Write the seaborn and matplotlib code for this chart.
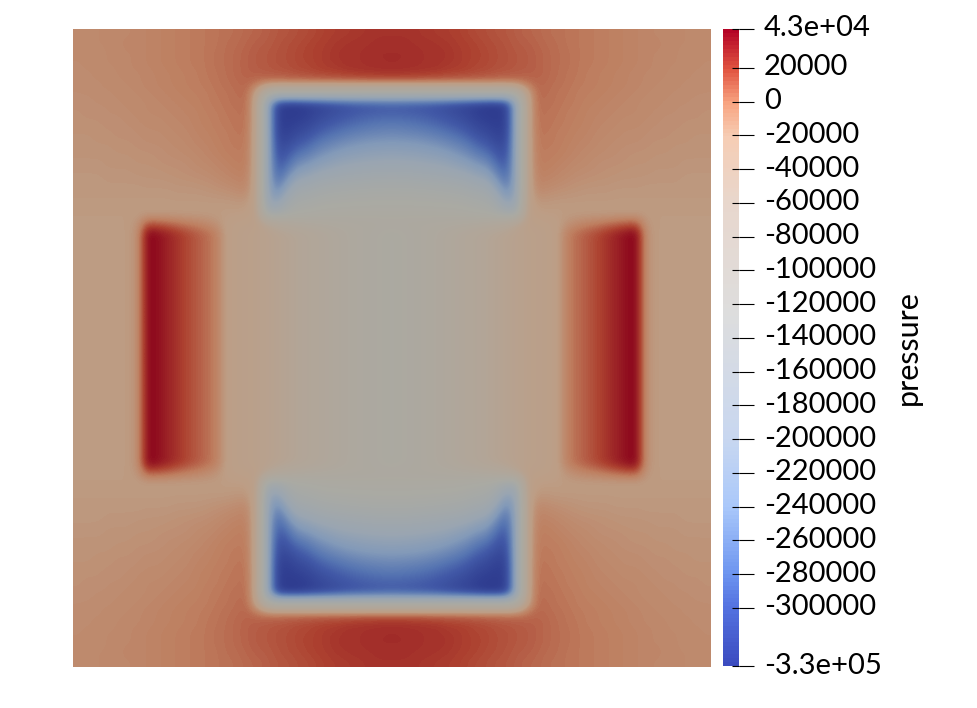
import matplotlib
matplotlib.use('Agg')
import matplotlib.pyplot as plt
from matplotlib.cm import ScalarMappable
from matplotlib.colors import LinearSegmentedColormap, Normalize
from matplotlib.transforms import ScaledTranslation
import numpy as np
import pandas as pd
import seaborn as sns

# pressure, in thousands, top left quarter of the square
quarter = [
    [-8,-8,-7,-7,-6,-6,-5,-4,-3,-2,-1,0,1,2,3,4,5,7, 8,10,12,13,15,16,18,20,21,22,23,24,25,25],
    [-8,-8,-7,-7,-6,-5,-5,-4,-3,-2,-1,0,1,2,3,5,6,8, 10,11,13,15,16,18,20,21,23,24,25,25,26,26],
    [-8,-8,-8,-7,-6,-6,-5,-4,-3,-2,-1,0,1,2,4,5,7,9, 11,12,14,15,17,19,20,22,24,25,25,26,27,27],
    [-9,-8,-8,-7,-7,-6,-5,-4,-3,-2,-1,0,1,2,4,5,7,9, 11,12,14,15,17,18,20,22,23,25,25,26,26,27],
    [-9,-9,-8,-8,-7,-6,-6,-5,-4,-3,-2,-1,0,2,3,5,7,9, 10,11,12,13,15,16,18,19,20,22,23,24,25,25],
    [-10,-9,-9,-8,-8,-7,-6,-5,-4,-3,-2,-1,0,1,3,4,6,7, 2,-2,-2,-2,-2,-2,-2,-2,-2,-2,-2,-2,-2,-2],
    [-10,-10,-9,-9,-8,-8,-7,-6,-5,-4,-3,-2,-1,0,2,3,5,6, -30,-120,-150,-150,-150,-150,-150,-150,-150,-150,-150,-150,-150,-150],
    [-11,-11,-10,-10,-9,-8,-8,-7,-6,-5,-4,-3,-2,0,1,3,4,5, -35,-215,-320,-330,-330,-325,-320,-315,-310,-305,-302,-300,-298,-296],
    [-12,-11,-11,-10,-10,-9,-8,-7,-7,-6,-5,-4,-3,-1,0,2,3,4, -35,-215,-325,-334,-332,-328,-320,-314,-308,-303,-298,-295,-293,-292],
    [-12,-12,-12,-11,-11,-10,-9,-8,-8,-7,-6,-5,-3,-2,0,1,3,3, -35,-215,-325,-330,-325,-320,-310,-302,-295,-289,-284,-280,-277,-275],
    [-13,-13,-12,-12,-11,-11,-10,-9,-9,-8,-7,-6,-4,-3,-1,0,2,2, -35,-215,-322,-325,-315,-308,-295,-285,-278,-271,-266,-262,-260,-258],
    [-14,-14,-13,-13,-12,-12,-11,-10,-10,-9,-8,-7,-5,-4,-2,0,1,1, -35,-215,-315,-315,-300,-290,-275,-265,-257,-250,-245,-241,-239,-238],
    [-14,-14,-14,-14,-13,-13,-12,-12,-11,-10,-9,-8,-7,-5,-3,-1,0,0, -35,-215,-310,-300,-280,-270,-255,-245,-235,-228,-224,-220,-218,-216],
    [-15,-15,-15,-14,-14,-14,-13,-13,-12,-11,-11,-10,-8,-7,-5,-3,-1,-1, -35,-215,-300,-285,-255,-245,-230,-220,-210,-205,-201,-198,-196,-195],
    [-16,-16,-16,-15,-15,-15,-14,-14,-14,-13,-12,-11,-10,-9,-7,-5,-3,-3, -35,-215,-290,-262,-225,-215,-200,-192,-186,-181,-178,-175,-173,-172],
    [-17,-17,-17,-16,-16,-16,-16,-15,-15,-15,-14,-14,-13,-12,-10,-8,-6,-5, -35,-210,-275,-232,-190,-182,-170,-163,-160,-157,-155,-153,-151,-150],
    [-17,-17,-17,-17,-17,-17,-17,-17,-17,-17,-16,-16,-16,-15,-14,-13,-11,-10, -35,-205,-250,-195,-160,-155,-148,-144,-141,-139,-137,-136,-135,-135],
    [-18,-18,-18,-18,-18,-18,-18,-18,-18,-18,-18,-18,-18,-18,-18,-18,-17,-17, -35,-190,-210,-160,-140,-138,-132,-128,-127,-126,-125,-125,-124,-124],
    [-19,-19,-19,-19,-19,-19,-19,-19,-19,-19,-19,-19,-19,-19,-19,-20,-20,-22, -35,-150,-150,-135,-125,-122,-118,-116,-115,-114,-114,-113,-113,-113],
    [-19,-19,-19,-19,-19,-19,-15,12,10,7,3,-1,-4,-8,-14,-24,-28,-30, -30,-50,-70,-80,-87,-92,-95,-97,-100,-101,-102,-103,-104,-105],
    [-20,-20,-20,-20,-20,-19,-12,43,38,31,24,17,11,5,-3,-24,-30,-32, -35,-40,-46,-52,-58,-65,-72,-80,-87,-94,-100,-105,-109,-112],
]
# below the top of the side block the picture hardly changes from row to row
middle_row = [-20,-20,-20,-20,-20,-19,-12,43,38,31,24,17,11,5,-3,-24,-30,-32, -35,-40,-46,-52,-58,-65,-72,-80,-87,-94,-100,-105,-109,-112]
quarter = quarter + [middle_row] * 11

# colour bar
tick_values = [43000, 20000, 0, -20000, -40000, -60000, -80000, -100000, -120000, -140000, -160000,
               -180000, -200000, -220000, -240000, -260000, -280000, -300000, -334500]
tick_labels = ['4.3e+04', '20000', '0', '-20000', '-40000', '-60000', '-80000', '-100000', '-120000',
               '-140000', '-160000', '-180000', '-200000', '-220000', '-240000', '-260000', '-280000',
               '-300000', '-3.3e+05']
stop_values = [-334500, -300000, -280000, -240000, -200000, -125000, -60000, -20000, 0, 20000, 43000]
stop_colors = ['#3b4cc0', '#5573e1', '#6e96f0', '#aac8fa', '#c8d7f0', '#dddddd',
               '#e8d7cd', '#f6cdb4', '#f8a582', '#e15541', '#b40426']
shade = (0.77, 0.77, 0.74)  # the square is lit, so it looks darker than the bar

vmin, vmax = stop_values[0], stop_values[-1]
norm = Normalize(vmin, vmax)
positions = [norm(v) for v in stop_values]
bar_cmap = LinearSegmentedColormap.from_list('pressure_bar', list(zip(positions, stop_colors)), N=160)
lit_colors = [tuple(c * s for c, s in zip(matplotlib.colors.to_rgb(h), shade)) for h in stop_colors]
lit_cmap = LinearSegmentedColormap.from_list('pressure_lit', list(zip(positions, lit_colors)), N=256)

top = np.hstack([np.array(quarter), np.fliplr(np.array(quarter))])
pressure = pd.DataFrame(np.vstack([top, np.flipud(top)]) * 1000.0)

plt.rcParams['font.family'] = ['Lato', 'DejaVu Sans']
fig = plt.figure(figsize=(9.78, 7.08), dpi=100)
ax = fig.add_axes([73 / 978, 1 - 667 / 708, 638 / 978, 638 / 708])
sns.heatmap(pressure, cmap=lit_cmap, vmin=vmin, vmax=vmax, cbar=False, xticklabels=False,
            yticklabels=False, ax=ax)
# same cells again, smoothed like the original render
ax.imshow(pressure.values, cmap=lit_cmap, vmin=vmin, vmax=vmax, interpolation='bicubic',
          extent=(0, 64, 64, 0), aspect='auto', zorder=3)
ax.set_xlim(0, 64)
ax.set_ylim(64, 0)
ax.axis('off')

cax = fig.add_axes([723 / 978, 1 - 666 / 708, 16 / 978, 637 / 708])
bar = fig.colorbar(ScalarMappable(norm=norm, cmap=bar_cmap), cax=cax, ticks=tick_values)
bar.outline.set_visible(False)
bar.set_ticklabels(tick_labels)
cax.tick_params(axis='y', direction='out', length=10.8, width=0.8, pad=7, labelsize=21, colors='black')
cax.hlines(tick_values, 0.56, 1, color='black', lw=0.8, clip_on=False)
bar.set_label('pressure', fontsize=22, labelpad=9)
# labels sit a little above their ticks in the original
for label in cax.get_yticklabels():
    label.set_transform(label.get_transform() + ScaledTranslation(0, 3 / 100, fig.dpi_scale_trans))

fig.savefig('out.png', dpi=100)
